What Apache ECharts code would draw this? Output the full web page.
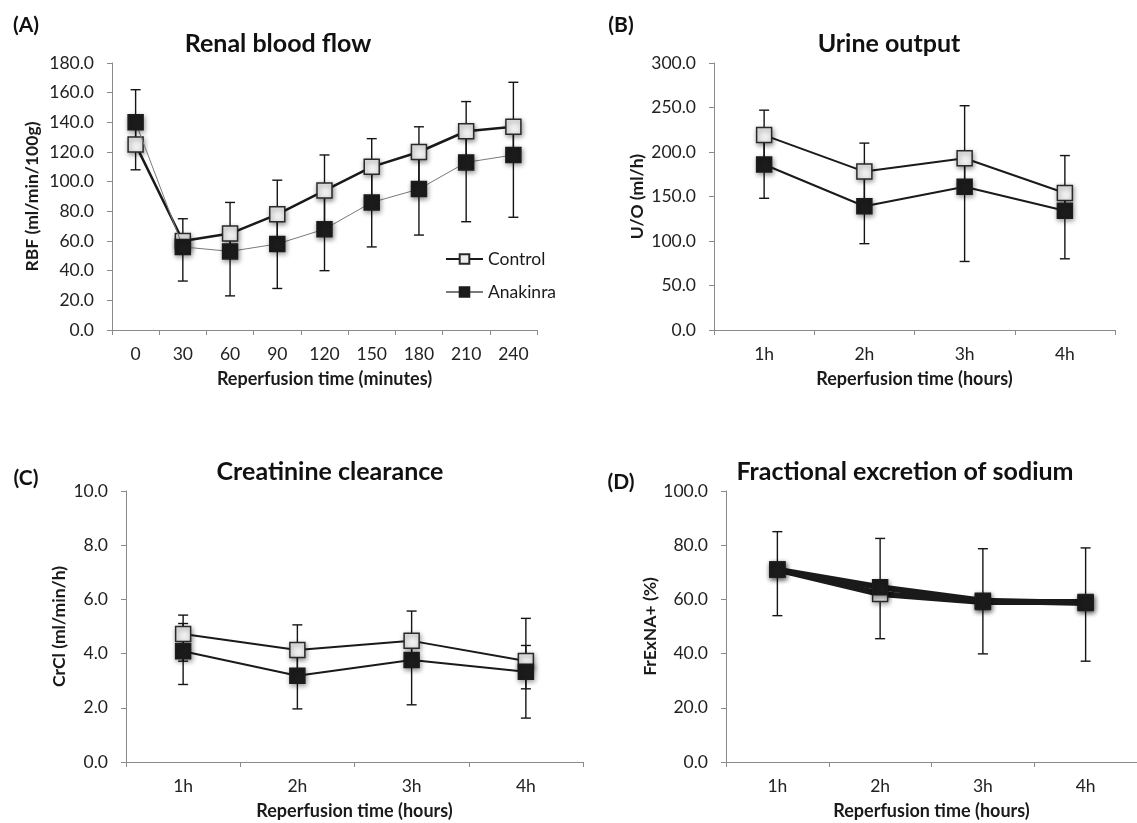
<!DOCTYPE html>
<html>
<head>
<meta charset="utf-8">
<script src="https://cdn.jsdelivr.net/npm/echarts@6/dist/echarts.min.js"></script>
<style>
html,body{margin:0;padding:0;background:#fff;}
#chart{width:1137px;height:823px;}
</style>
</head>
<body>
<div id="chart"></div>
<script>
// ---------- Data ----------
const minuteCats = ['0','30','60','90','120','150','180','210','240'];
const hourCats = ['1h','2h','3h','4h'];

// (A) Renal blood flow (ml/min/100g)
const rbfControl = [125, 60, 65, 78, 94, 110, 120, 134, 137];
const rbfControlErrUp = [15, 15, 21, 23, 24, 19, 17, 20, 30];
const rbfControlErrDown = [17, 4, 12, 20, 26, 24, 25, 21, 19];
const rbfAnakinra = [140, 56, 53, 58, 68, 86, 95, 113, 118];
const rbfAnakinraErrUp = [22, 4, 12, 20, 26, 24, 25, 21, 19];
const rbfAnakinraErrDown = [15, 23, 30, 30, 28, 30, 31, 40, 42];

// (B) Urine output (ml/h)
const uoControl = [219, 178, 193, 154];
const uoControlErrUp = [28, 32, 59, 42];
const uoControlErrDown = [33, 39, 32, 20];
const uoAnakinra = [186, 139, 161, 134];
const uoAnakinraErrUp = [33, 39, 32, 20];
const uoAnakinraErrDown = [38, 42, 84, 54];

// (C) Creatinine clearance (ml/min/h)
const crclControl = [4.72, 4.13, 4.47, 3.73];
const crclControlErrUp = [0.70, 0.93, 1.10, 1.57];
const crclControlErrDown = [1.00, 0.95, 0.71, 1.03];
const crclAnakinra = [4.09, 3.18, 3.76, 3.33];
const crclAnakinraErrUp = [1.02, 0.95, 0.71, 0.97];
const crclAnakinraErrDown = [1.23, 1.22, 1.65, 1.71];

// (D) Fractional excretion of sodium (%)
const fenaControl = [71, 62, 59, 59];
const fenaControlErrUp = [14, 20.5, 19.7, 20];
const fenaControlErrDown = [2.5, 2.5, 2.5, 2.5];
const fenaAnakinra = [71, 64.5, 59.5, 58.7];
const fenaAnakinraErrUp = [2.5, 2.5, 2.5, 2.5];
const fenaAnakinraErrDown = [17, 19, 19.6, 21.5];

// ---------- Styling ----------
const FONT = 'Lato, "Open Sans", sans-serif';
const AXIS_COLOR = '#8a8a8a';
const LABEL_COLOR = '#222';

const grids = [
  {left: 112, top: 63, width: 425, height: 267},
  {left: 714, top: 63, width: 401, height: 267},
  {left: 126, top: 491, width: 457, height: 271},
  {left: 726, top: 491, width: 418, height: 271}
];

function xAxisCfg(idx, cats, name) {
  return {
    type: 'category', gridIndex: idx, data: cats, boundaryGap: true,
    name: name, nameLocation: 'middle', nameGap: 40,
    nameTextStyle: {fontFamily: FONT, fontWeight: 'bold', fontSize: 18, color: '#1a1a1a'},
    axisLine: {lineStyle: {color: AXIS_COLOR, width: 1}},
    axisTick: {show: true, alignWithLabel: false, length: 5, lineStyle: {color: AXIS_COLOR}},
    axisLabel: {fontFamily: FONT, fontSize: 17.5, color: LABEL_COLOR, margin: 15},
    splitLine: {show: false}
  };
}
function yAxisCfg(idx, max, interval, name, gap) {
  return {
    type: 'value', gridIndex: idx, min: 0, max: max, interval: interval,
    name: name, nameLocation: 'middle', nameGap: gap, nameRotate: 90,
    nameTextStyle: {fontFamily: FONT, fontWeight: 'bold', fontSize: 17.5, color: '#1a1a1a'},
    axisLine: {show: true, lineStyle: {color: AXIS_COLOR, width: 1}},
    axisTick: {show: true, length: 5, lineStyle: {color: AXIS_COLOR}},
    axisLabel: {fontFamily: FONT, fontSize: 17.5, color: LABEL_COLOR, margin: 18,
      formatter: v => v.toFixed(1)},
    splitLine: {show: false}
  };
}

function errData(mean, up, down) {
  return mean.map((m, i) => [i, m - down[i], m + up[i]]);
}
function errSeries(idx, mean, up, down) {
  return {
    type: 'custom', xAxisIndex: idx, yAxisIndex: idx, z: 2, silent: true,
    data: errData(mean, up, down),
    encode: {x: 0, y: [1, 2]},
    renderItem: function (params, api) {
      const x = api.value(0);
      const pHi = api.coord([x, api.value(2)]);
      const pLo = api.coord([x, api.value(1)]);
      const hw = 5;
      const st = {stroke: '#151515', lineWidth: 1.4};
      return {type: 'group', children: [
        {type: 'line', shape: {x1: pHi[0], y1: pHi[1], x2: pLo[0], y2: pLo[1]}, style: st},
        {type: 'line', shape: {x1: pHi[0] - hw, y1: pHi[1], x2: pHi[0] + hw, y2: pHi[1]}, style: st},
        {type: 'line', shape: {x1: pLo[0] - hw, y1: pLo[1], x2: pLo[0] + hw, y2: pLo[1]}, style: st}
      ]};
    }
  };
}
const shadow = {shadowBlur: 5, shadowColor: 'rgba(0,0,0,0.45)', shadowOffsetX: 1, shadowOffsetY: 2};
function lineSeries(idx, name, data, kind, lw, lc) {
  const isCtrl = kind === 'control';
  return {
    type: 'line', name: name, xAxisIndex: idx, yAxisIndex: idx, data: data,
    z: isCtrl ? 3 : 4,
    symbol: 'rect', symbolSize: 15,
    lineStyle: {color: lc, width: lw},
    itemStyle: Object.assign({
      color: isCtrl ? '#efefef' : '#1c1c1c',
      borderColor: isCtrl ? '#2a2a2a' : '#1c1c1c',
      borderWidth: 1.5
    }, shadow),
    emphasis: {disabled: true}
  };
}

const series = [
  lineSeries(0, 'Control', rbfControl, 'control', 2.5, '#1a1a1a'),
  lineSeries(0, 'Anakinra', rbfAnakinra, 'anakinra', 1, '#7a7a7a'),
  errSeries(0, rbfControl, rbfControlErrUp, rbfControlErrDown),
  errSeries(0, rbfAnakinra, rbfAnakinraErrUp, rbfAnakinraErrDown),

  lineSeries(1, 'Control', uoControl, 'control', 2, '#1a1a1a'),
  lineSeries(1, 'Anakinra', uoAnakinra, 'anakinra', 2, '#1a1a1a'),
  errSeries(1, uoControl, uoControlErrUp, uoControlErrDown),
  errSeries(1, uoAnakinra, uoAnakinraErrUp, uoAnakinraErrDown),

  lineSeries(2, 'Control', crclControl, 'control', 2, '#1a1a1a'),
  lineSeries(2, 'Anakinra', crclAnakinra, 'anakinra', 2, '#1a1a1a'),
  errSeries(2, crclControl, crclControlErrUp, crclControlErrDown),
  errSeries(2, crclAnakinra, crclAnakinraErrUp, crclAnakinraErrDown),

  lineSeries(3, 'Control', fenaControl, 'control', 6, '#1a1a1a'),
  lineSeries(3, 'Anakinra', fenaAnakinra, 'anakinra', 6, '#1a1a1a'),
  errSeries(3, fenaControl, fenaControlErrUp, fenaControlErrDown),
  errSeries(3, fenaAnakinra, fenaAnakinraErrUp, fenaAnakinraErrDown)
];

function txt(text, x, y, size) {
  return {type: 'text', x: x, y: y, silent: true,
    style: {text: text, fontFamily: FONT, fontWeight: 'bold', fontSize: size, fill: '#111',
      textAlign: 'center', textVerticalAlign: 'middle'}};
}

const option = {
  animation: false,
  backgroundColor: '#ffffff',
  grid: grids,
  xAxis: [
    xAxisCfg(0, minuteCats, 'Reperfusion time (minutes)'),
    xAxisCfg(1, hourCats, 'Reperfusion time (hours)'),
    xAxisCfg(2, hourCats, 'Reperfusion time (hours)'),
    xAxisCfg(3, hourCats, 'Reperfusion time (hours)')
  ],
  yAxis: [
    yAxisCfg(0, 180, 20, 'RBF (ml/min/100g)', 71),
    yAxisCfg(1, 300, 50, 'U/O (ml/h)', 68),
    yAxisCfg(2, 10, 2, 'CrCl (ml/min/h)', 58),
    yAxisCfg(3, 100, 20, 'FrExNA+ (%)', 61)
  ],
  legend: {
    data: ['Control', 'Anakinra'],
    left: 440, top: 245, orient: 'vertical', itemGap: 15,
    itemWidth: 37, itemHeight: 12,
    textStyle: {fontFamily: FONT, fontSize: 17.5, color: '#1a1a1a'},
    selectedMode: false
  },
  graphic: [
    txt('(A)', 26, 25, 21),
    txt('(B)', 621, 25, 21),
    txt('(C)', 26, 478, 21),
    txt('(D)', 621, 482, 21),
    txt('Renal blood flow', 278, 44, 25),
    txt('Urine output', 889, 44, 25),
    txt('Creatinine clearance', 330, 472, 25),
    txt('Fractional excretion of sodium', 905, 472, 25)
  ],
  series: series
};

const chart = echarts.init(document.getElementById('chart'), null, {renderer: 'canvas'});
chart.setOption(option);
</script>
</body>
</html>
